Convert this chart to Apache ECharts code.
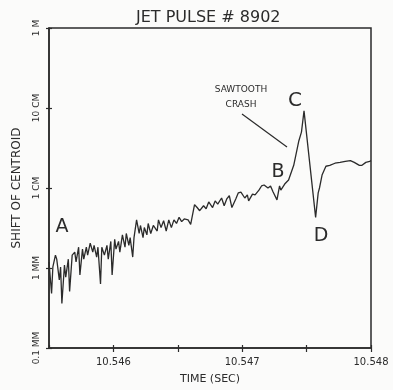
<!DOCTYPE html>
<html>
<head>
<meta charset="utf-8">
<script src="https://cdn.jsdelivr.net/npm/echarts@6/dist/echarts.min.js"></script>
<style>
  html, body { margin: 0; padding: 0; background: #fbfbfa; }
  #chart { width: 393px; height: 390px; }
</style>
</head>
<body>
<div id="chart"></div>
<script>
// time (sec) and centroid shift (mm)
var times = [
  10.54550, 10.54552, 10.54553, 10.54555, 10.54556, 10.54558, 10.54559, 10.54560,
  10.54562, 10.54563, 10.54565, 10.54566, 10.54568, 10.54570, 10.54571, 10.54573,
  10.54574, 10.54576, 10.54577, 10.54579, 10.54580, 10.54582, 10.54584, 10.54585,
  10.54587, 10.54588, 10.54590, 10.54591, 10.54593, 10.54595, 10.54596, 10.54598,
  10.54599, 10.54601, 10.54602, 10.54604, 10.54605, 10.54607, 10.54609, 10.54610,
  10.54612, 10.54613, 10.54615, 10.54616, 10.54618, 10.54620, 10.54621, 10.54623,
  10.54624, 10.54626, 10.54627, 10.54629, 10.54631, 10.54634, 10.54635, 10.54637,
  10.54639, 10.54641, 10.54643, 10.54645, 10.54647, 10.54649, 10.54651, 10.54653,
  10.54655, 10.54658, 10.54660, 10.54663, 10.54665, 10.54667, 10.54670, 10.54672,
  10.54674, 10.54677, 10.54679, 10.54681, 10.54684, 10.54686, 10.54688, 10.54690,
  10.54692, 10.54695, 10.54697, 10.54699, 10.54702, 10.54704, 10.54705, 10.54708,
  10.54710, 10.54713, 10.54715, 10.54717, 10.54720, 10.54722, 10.54724, 10.54727,
  10.54729, 10.54730, 10.54733, 10.54736, 10.54740, 10.54744, 10.54746, 10.54748,
  10.54757, 10.54759, 10.54760, 10.54762, 10.54765, 10.54768, 10.54772, 10.54776,
  10.54780, 10.54784, 10.54787, 10.54791, 10.54793, 10.54796, 10.54799, 10.54800
];
var shift = [
  1.19, 0.48, 1.03, 1.45, 1.29, 0.71, 1.03, 0.36,
  1.09, 0.77, 1.29, 0.51, 1.45, 1.58, 1.19, 1.82,
  0.82, 1.72, 1.29, 1.82, 1.45, 2.04, 1.58, 1.92,
  1.37, 1.82, 0.63, 1.82, 1.45, 1.92, 1.29, 2.15,
  0.82, 2.28, 1.72, 2.15, 1.58, 2.6, 1.82, 2.7,
  1.92, 2.4, 1.37, 2.4, 4.0, 2.7, 3.4, 2.4,
  3.2, 2.6, 3.6, 2.7, 3.4, 2.9, 4.0, 3.2,
  3.9, 2.9, 4.0, 3.2, 4.0, 3.6, 4.3, 3.8,
  4.1, 4.0, 3.5, 6.2, 5.7, 5.2, 6.0, 5.5,
  6.7, 5.7, 6.9, 6.3, 7.5, 6.0, 7.3, 8.0,
  5.7, 7.3, 8.7, 8.9, 7.5, 8.2, 6.9, 8.4,
  8.2, 9.4, 10.6, 10.9, 10, 10.6, 8.9, 7.1,
  10.6, 9.4, 11.2, 12.6, 19.2, 39, 50, 92,
  4.3, 8.7, 10, 14.5, 18.7, 19.2, 20.4, 20.9,
  21.5, 22, 20.9, 19.2, 19.2, 20.9, 21.5, 22
];
var yTickNames = { 0.1: '0.1 MM', 1: '1 MM', 10: '1 CM', 100: '10 CM', 1000: '1 M' };

var ink = '#2b2b2b';
var chart = echarts.init(document.getElementById('chart'));

var points = times.map(function (t, i) { return [t, shift[i]]; });

function note(text, x, y, size) {
  return {
    type: 'text', x: x, y: y,
    style: { text: text, font: size + 'px "DejaVu Sans"', fill: ink, align: 'center', verticalAlign: 'middle' }
  };
}

var option = {
  backgroundColor: '#fbfbfa',
  animation: false,
  title: {
    text: 'JET PULSE # 8902',
    left: 131, top: 5,
    textStyle: { fontFamily: 'DejaVu Sans', fontSize: 16, fontWeight: 'normal', color: ink }
  },
  grid: {
    left: 49, right: 22, top: 28, bottom: 39,
    show: true, borderColor: ink, borderWidth: 1.5, backgroundColor: 'transparent'
  },
  xAxis: [{
    type: 'value',
    min: 10.5455, max: 10.548, interval: 0.0005,
    name: 'TIME (SEC)', nameLocation: 'middle', nameGap: 26,
    nameTextStyle: { fontFamily: 'DejaVu Sans', fontSize: 11, color: ink },
    axisLine: { lineStyle: { color: ink, width: 1.5 } },
    axisTick: { length: 4, lineStyle: { color: ink, width: 1.2 } },
    splitLine: { show: false },
    axisLabel: {
      margin: 9, fontSize: 10, fontFamily: 'DejaVu Sans', color: ink, showMinLabel: false,
      formatter: function (v) {
        var ms = v * 1000;
        if (Math.abs(ms - Math.round(ms)) > 1e-6) return '';
        return (Math.round(ms) / 1000).toFixed(3);
      }
    }
  }, {
    type: 'value', position: 'bottom',
    min: 10.5455, max: 10.548, interval: 0.0005,
    axisLine: { show: false },
    axisTick: { inside: true, length: 3, lineStyle: { color: ink, width: 1.2 } },
    axisLabel: { show: false }, splitLine: { show: false }
  }],
  yAxis: [{
    type: 'log', logBase: 10, min: 0.1, max: 1000,
    name: 'SHIFT OF CENTROID', nameLocation: 'middle', nameGap: 26,
    nameTextStyle: { fontFamily: 'DejaVu Sans', fontSize: 12, color: ink },
    axisLine: { show: true, lineStyle: { color: ink, width: 1.5 } },
    axisTick: { show: true, length: 3, lineStyle: { color: ink, width: 1.2 } },
    splitLine: { show: false },
    minorTick: { show: false },
    axisLabel: {
      rotate: 90, margin: 8, fontSize: 9, fontFamily: 'DejaVu Sans', color: ink,
      formatter: function (v) { return yTickNames[v] || ''; }
    }
  }, {
    type: 'log', logBase: 10, min: 0.1, max: 1000, position: 'left',
    axisLine: { show: false },
    axisTick: { show: true, inside: true, length: 3, lineStyle: { color: ink, width: 1.2 } },
    axisLabel: { show: false }, splitLine: { show: false }
  }],
  series: [{
    type: 'line',
    data: points,
    showSymbol: false,
    lineStyle: { color: ink, width: 1.3 },
    z: 3
  }],
  graphic: [
    note('A', 62, 227, 19),
    note('B', 278, 172, 19),
    note('C', 295, 101, 20),
    note('D', 321, 236, 19),
    note('SAWTOOTH', 241, 90, 9),
    note('CRASH', 241, 105, 9),
    { type: 'line', shape: { x1: 242, y1: 114, x2: 287, y2: 147 }, style: { stroke: ink, lineWidth: 1.2 } }
  ]
};

chart.setOption(option);
</script>
</body>
</html>
